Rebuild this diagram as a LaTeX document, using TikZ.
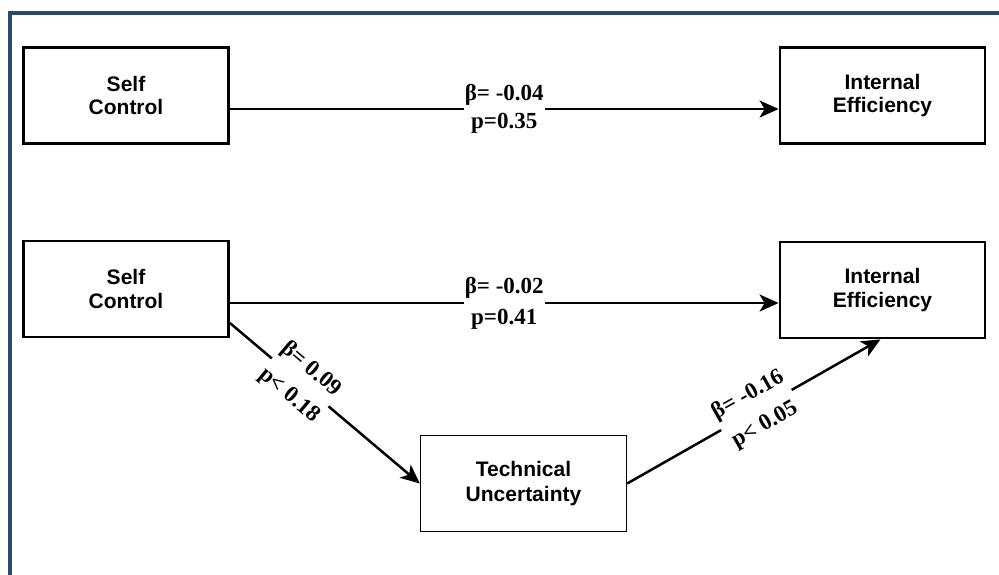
\documentclass[tikz,border=0pt]{standalone}
\usepackage{fontspec}
\setmainfont{Liberation Serif}
\setsansfont{Liberation Sans}
\usetikzlibrary{arrows.meta}
\definecolor{framecol}{HTML}{284A6B}
\begin{document}
\begin{tikzpicture}[x=1pt,y=-1pt,
  varbox/.style={draw=black, line width=2.8pt, fill=white, align=center,
    minimum width=205pt, minimum height=96pt, inner sep=0pt,
    font=\sffamily\bfseries\fontsize{21}{23.5}\selectfont},
  medbox/.style={varbox, line width=1.4pt, minimum width=206pt, minimum height=96pt,
    font=\sffamily\bfseries\fontsize{21}{24.5}\selectfont},
  path/.style={line width=2.5pt, -{Stealth[length=19pt,width=17pt,inset=5pt]}},
  coef/.style={fill=white, align=center, inner xsep=1pt, inner ysep=0pt,
    font=\rmfamily\bfseries\fontsize{23}{28}\selectfont},
  slopedcoef/.style={coef, sloped, font=\rmfamily\bfseries\fontsize{23}{34}\selectfont}]
  \useasboundingbox (0,0) rectangle (999,574);
  \fill[white] (0,0) rectangle (999,574);

  % outer frame (top and left edges)
  \draw[framecol, line width=4pt, line join=miter] (9.5,580) -- (9.5,13) -- (1005,13);

  % variables
  \node[varbox] (sc1) at (126,95.5)   {Self\\Control};
  \node[varbox] (ie1) at (882.5,95.5) {Internal\\Efficiency};
  \node[varbox] (sc2) at (126,289)    {Self\\Control};
  \node[varbox] (ie2) at (882.5,290)  {Internal\\Efficiency};
  \node[medbox] (tu)  at (523.5,483.5) {Technical\\Uncertainty};

  % total effect
  \draw[path] ([yshift=-13.5pt]sc1.east) -- node[coef] {β= -0.04\\p=0.35} ([yshift=-13.5pt]ie1.west);

  % direct effect
  \draw[path] ([yshift=-14pt]sc2.east) -- node[coef, font=\rmfamily\bfseries\fontsize{23}{31}\selectfont] {β= -0.02\\p=0.41} ([yshift=-13pt]ie2.west);

  % indirect paths through the mediator
  \draw[path] ([yshift=-34pt]sc2.east) -- node[slopedcoef, pos=0.37] {β= 0.09\\p< 0.18} (tu.west);
  \draw[path] (tu.east) -- node[slopedcoef, pos=0.51] {β= -0.16\\p< 0.05} ([xshift=-2pt]ie2.south);
\end{tikzpicture}
\end{document}
